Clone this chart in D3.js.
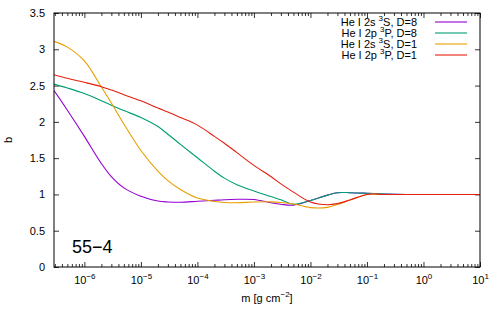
<!DOCTYPE html>
<html>
<head>
<meta charset="utf-8">
<script src="https://cdn.jsdelivr.net/npm/d3@7"></script>
<style>
  body { margin: 0; background: #fff; }
  svg { display: block; font-family: "Liberation Sans", Arial, sans-serif; }
</style>
</head>
<body>
<div id="chart"></div>
<script>
// column mass grid shared by all series [g cm^-2]
const massGrid = [2.9e-7, 5e-7, 1e-6, 2e-6, 3e-6, 5e-6, 1e-5, 2e-5, 3e-5, 5e-5,
  1e-4, 2e-4, 3e-4, 5e-4, 1e-3, 2e-3, 3e-3, 5e-3, 1e-2, 2e-2, 3e-2, 5e-2,
  0.1, 0.2, 0.5, 1, 2, 5, 10];

// departure coefficients b
const he2sD8 = [2.43, 2.16, 1.80, 1.425, 1.245, 1.09, 0.975, 0.909, 0.896, 0.892,
  0.905, 0.919, 0.927, 0.933, 0.93, 0.885, 0.864, 0.852, 0.915, 0.99, 1.024, 1.024,
  1.016, 1.006, 1.0, 1.0, 1.0, 1.0, 1.0];
const he2pD8 = [2.52, 2.467, 2.39, 2.29, 2.23, 2.155, 2.06, 1.935, 1.83, 1.69,
  1.505, 1.32, 1.225, 1.135, 1.048, 0.971, 0.926, 0.865, 0.916, 0.99, 1.024, 1.024,
  1.016, 1.006, 1.0, 1.0, 1.0, 1.0, 1.0];
const he2sD1 = [3.11, 3.03, 2.84, 2.48, 2.26, 1.97, 1.605, 1.32, 1.19, 1.067,
  0.95, 0.903, 0.889, 0.886, 0.896, 0.898, 0.889, 0.868, 0.818, 0.822, 0.861, 0.923,
  1.0, 1.0, 1.0, 1.0, 1.0, 1.0, 1.0];
const he2pD1 = [2.65, 2.60, 2.545, 2.485, 2.44, 2.375, 2.29, 2.19, 2.135, 2.06,
  1.955, 1.80, 1.705, 1.576, 1.40, 1.247, 1.145, 1.032, 0.896, 0.858, 0.874, 0.923,
  1.0, 1.0, 1.0, 1.0, 1.0, 1.0, 1.0];

const seriesNames = [["He I 2s ", "3", "S, D=8"], ["He I 2p ", "3", "P, D=8"],
  ["He I 2s ", "3", "S, D=1"], ["He I 2p ", "3", "P, D=1"]];
const seriesValues = [he2sD8, he2pD8, he2sD1, he2pD1];
const colors = ["#9400d3", "#009e73", "#e69f00", "#e51e10"];

const yTicks = [0, 0.5, 1, 1.5, 2, 2.5, 3, 3.5];
const xDecades = [-6, -5, -4, -3, -2, -1, 0, 1];

const margin = {top: 13, right: 20, bottom: 47, left: 54};
const W = 500, H = 314;
const width = W - margin.left - margin.right,
      height = H - margin.top - margin.bottom;

const svg = d3.select("#chart").append("svg")
    .attr("width", W)
    .attr("height", H);

const g = svg.append("g")
    .attr("transform", "translate(" + margin.left + "," + margin.top + ")");

const x = d3.scaleLog().domain([2.9e-7, 10]).range([0, width]);
const y = d3.scaleLinear().domain([0, 3.5]).range([height, 0]);

// minor ticks 2..9 of every decade inside the domain
const minorTicks = [];
for (let e = -7; e <= 0; e++) {
  for (let k = 2; k <= 9; k++) {
    const v = k * Math.pow(10, e);
    if (v >= 2.9e-7 && v <= 10) minorTicks.push(v);
  }
}
const majorX = xDecades.map(e => Math.pow(10, e));

function styleAxis(sel) {
  sel.select(".domain").remove();
  sel.selectAll("line").attr("stroke", "#000").attr("stroke-width", 0.8);
}

// bottom / top ticks (inward)
g.append("g").attr("transform", "translate(0," + height + ")")
    .call(d3.axisBottom(x).tickValues(minorTicks).tickSize(-3).tickFormat(""))
    .call(styleAxis);
g.append("g")
    .call(d3.axisTop(x).tickValues(minorTicks).tickSize(-3).tickFormat(""))
    .call(styleAxis);
g.append("g")
    .call(d3.axisTop(x).tickValues(majorX).tickSize(-5).tickFormat(""))
    .call(styleAxis);

const xAxis = g.append("g").attr("transform", "translate(0," + height + ")")
    .call(d3.axisBottom(x).tickValues(majorX).tickSize(-5).tickPadding(14).tickFormat(""))
    .call(styleAxis);

xAxis.selectAll(".tick text")
    .attr("fill", "#000")
    .attr("font-size", 11)
    .attr("text-anchor", "middle")
    .attr("dy", "0.3em")
    .each(function (d) {
      const t = d3.select(this);
      t.append("tspan").text("10");
      t.append("tspan").attr("font-size", 8).attr("dy", -5)
        .text(String(Math.round(Math.log10(d))).replace("-", "\u2212"));
    });

// left / right ticks
g.append("g")
    .call(d3.axisLeft(y).tickValues(yTicks).tickSize(-5).tickPadding(9).tickFormat(d3.format("")))
    .call(styleAxis)
    .selectAll("text").attr("font-size", 11).attr("fill", "#000");
g.append("g").attr("transform", "translate(" + width + ",0)")
    .call(d3.axisRight(y).tickValues(yTicks).tickSize(-5).tickFormat(""))
    .call(styleAxis);

// curves
svg.append("defs").append("clipPath").attr("id", "clip")
  .append("rect").attr("width", width).attr("height", height);

const line = d3.line()
    .x(d => x(d[0]))
    .y(d => y(d[1]))
    .curve(d3.curveCatmullRom.alpha(0.5));

seriesValues.forEach((vals, i) => {
  g.append("path")
      .datum(massGrid.map((m, j) => [m, vals[j]]))
      .attr("clip-path", "url(#clip)")
      .attr("fill", "none")
      .attr("stroke", colors[i])
      .attr("stroke-width", 1.1)
      .attr("d", line);
});

// border
g.append("rect")
    .attr("width", width)
    .attr("height", height)
    .attr("fill", "none")
    .attr("stroke", "#000")
    .attr("stroke-width", 1);

// legend
const legend = svg.append("g");
seriesNames.forEach((parts, i) => {
  const ly = 22 + i * 11;
  const t = legend.append("text")
      .attr("x", 417)
      .attr("y", ly + 4)
      .attr("text-anchor", "end")
      .attr("font-size", 11)
      .attr("fill", "#000");
  t.append("tspan").text(parts[0]);
  t.append("tspan").attr("font-size", 8).attr("dy", -5).text(parts[1]);
  t.append("tspan").attr("dy", 5).text(parts[2]);
  legend.append("line")
      .attr("x1", 435).attr("x2", 467)
      .attr("y1", ly).attr("y2", ly)
      .attr("stroke", colors[i])
      .attr("stroke-width", 1.1);
});

// labels
svg.append("text")
    .attr("transform", "translate(12," + (margin.top + height / 2) + ") rotate(-90)")
    .attr("text-anchor", "middle")
    .attr("font-size", 11)
    .text("b");

const xl = svg.append("text")
    .attr("x", margin.left + width / 2)
    .attr("y", 302)
    .attr("text-anchor", "middle")
    .attr("font-size", 11);
xl.append("tspan").text("m [g cm");
xl.append("tspan").attr("font-size", 8).attr("dy", -5).text("\u22122");
xl.append("tspan").attr("dy", 5).text("]");

svg.append("text")
    .attr("x", 72)
    .attr("y", 253)
    .attr("font-size", 18)
    .text("55\u22124");
</script>
</body>
</html>
